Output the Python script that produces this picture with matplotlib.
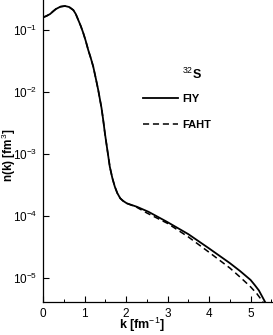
import matplotlib
matplotlib.use("Agg")
import matplotlib.pyplot as plt
from matplotlib.ticker import FixedLocator, MultipleLocator, NullLocator

plt.rcParams["font.family"] = ["Liberation Sans", "DejaVu Sans"]
plt.rcParams["mathtext.fontset"] = "custom"
plt.rcParams["mathtext.rm"] = "Liberation Sans"
plt.rcParams["mathtext.bf"] = "Liberation Sans:bold"

# momentum distribution of 32S
k_fiy = [0.0, 0.08, 0.17, 0.25, 0.31, 0.42, 0.53, 0.63, 0.73, 0.79, 0.85, 0.91,
         0.97, 1.03, 1.09, 1.15, 1.21, 1.27, 1.33, 1.37, 1.41, 1.45, 1.49, 1.55,
         1.61, 1.67, 1.73, 1.79, 1.86, 1.93, 2.02, 2.26, 2.54, 2.98, 3.5, 4.0,
         4.5, 4.75, 5.0, 5.1, 5.2, 5.35]
n_fiy = [0.160, 0.168, 0.181, 0.202, 0.218, 0.238, 0.244, 0.235, 0.210, 0.181,
         0.145, 0.116, 0.0895, 0.0665, 0.0475, 0.0355, 0.0257, 0.0168, 0.0108,
         7.7e-3, 5.5e-3, 3.55e-3, 2.19e-3, 1.16e-3, 6.2e-4, 4.1e-4, 2.97e-4,
         2.34e-4, 1.93e-4, 1.75e-4, 1.60e-4, 1.41e-4, 1.17e-4, 8.1e-5, 5.1e-5,
         3.0e-5, 1.74e-5, 1.29e-5, 9.3e-6, 7.7e-6, 6.3e-6, 4.1e-6]

k_faht = [2.26, 2.5, 3.0, 3.5, 4.0, 4.5, 4.75, 5.0, 5.15, 5.3]
n_faht = [1.38e-4, 1.12e-4, 7.6e-5, 4.6e-5, 2.6e-5, 1.45e-5, 1.03e-5, 7.2e-6,
          5.6e-6, 4.1e-6]
# FAHT follows FIY up to k = 2
k_faht = k_fiy[:31] + k_faht
n_faht = n_fiy[:31] + n_faht

yticks = [1e-1, 1e-2, 1e-3, 1e-4, 1e-5]
ytick_labels = [r"10$^{-1}$", r"10$^{-2}$", r"10$^{-3}$", r"10$^{-4}$", r"10$^{-5}$"]

fig = plt.figure(figsize=(2.73, 3.35), dpi=100)
ax = fig.add_axes([0.1575, 0.0985, 0.8425, 0.9015])

ax.plot(k_fiy, n_fiy, color="black", lw=1.3, label="FIY")
ax.plot(k_faht, n_faht, color="black", lw=1.1, ls=(0, (4, 2.5)), label="FAHT")

ax.set_yscale("log")
ax.set_xlim(0, 5.54)
ax.set_ylim(4.1e-6, 0.305)

ax.yaxis.set_major_locator(FixedLocator(yticks))
ax.set_yticklabels(ytick_labels)
ax.yaxis.set_minor_locator(NullLocator())
ax.xaxis.set_major_locator(MultipleLocator(1))
ax.xaxis.set_minor_locator(MultipleLocator(0.5))

for side in ["top", "right"]:
    ax.spines[side].set_visible(False)
for side in ["left", "bottom"]:
    ax.spines[side].set_linewidth(0.9)
ax.tick_params(which="major", direction="in", length=4, width=0.8, labelsize=8.5, pad=4)
ax.tick_params(which="minor", direction="in", length=2.5, width=0.7)

ax.set_xlabel(r"k [fm$^{-1}$]", fontsize=9, fontweight="bold", va="center")
ax.set_ylabel(r"n(k) [fm$^{3}$]", fontsize=8.5, fontweight="bold", va="center")
ax.xaxis.set_label_coords(0.43, -0.076)
ax.yaxis.set_label_coords(-0.15, 0.487)

ax.text(0.605, 0.752, r"$^{32}$S", transform=ax.transAxes, fontsize=9,
        fontweight="bold", ha="left", va="center")
leg = ax.legend(loc="upper left", bbox_to_anchor=(0.39, 0.722), frameon=False,
                handlelength=3.2, handletextpad=0.4, labelspacing=1.4,
                prop={"size": 8, "weight": "bold"})

fig.savefig("out.png", dpi=100)
